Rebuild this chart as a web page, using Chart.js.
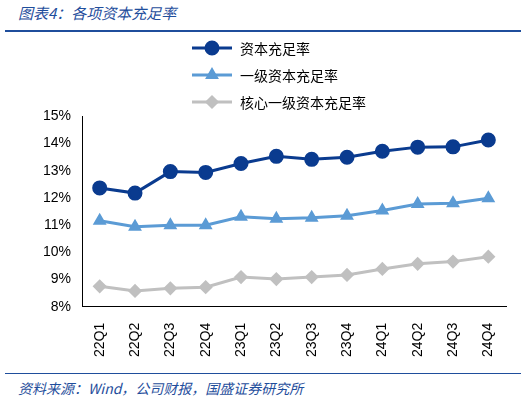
<!DOCTYPE html><html><head><meta charset="utf-8">
<script src="https://cdn.jsdelivr.net/npm/chart.js@4/dist/chart.umd.min.js"></script>
<style>body{margin:0;background:#fff;width:526px;height:403px;position:relative;overflow:hidden;font-family:"Noto Sans CJK SC",sans-serif}
#t{position:absolute;left:18px;top:2px;font-size:15px;font-style:italic;color:#1f4e9c}
#l{position:absolute;left:5px;top:30px;width:516px;height:2px;background:#1f4e9c}
#f{position:absolute;left:18px;top:378px;font-size:14px;font-style:italic;color:#1f4e9c}
#b{position:absolute;left:5px;top:373px;width:516px;height:1px;background:#1f4e9c}
#lg{position:absolute;left:190px;top:34px;font-size:14px}
.it{height:27px;display:flex;align-items:center}
.it canvas{margin-right:6px}
#c{position:absolute;left:40px;top:105px;width:475px;height:260px}</style></head><body>
<div id="t">图表4：各项资本充足率</div><div id="l"></div>
<div id="lg"></div>
<div id="c"><canvas id="cv"></canvas></div>
<div id="b"></div><div id="f">资料来源：Wind，公司财报，国盛证券研究所</div>
<script>
const categories=["22Q1","22Q2","22Q3","22Q4","23Q1","23Q2","23Q3","23Q4","24Q1","24Q2","24Q3","24Q4"];
const capitalRatio=[12.37,12.18,12.97,12.94,13.27,13.53,13.42,13.50,13.72,13.87,13.88,14.13];
const tier1Ratio=[11.16,10.94,11.00,11.00,11.31,11.24,11.27,11.35,11.54,11.78,11.81,11.99];
const coreTier1Ratio=[8.75,8.58,8.68,8.72,9.09,9.02,9.09,9.17,9.39,9.58,9.66,9.84];
const names=["资本充足率","一级资本充足率","核心一级资本充足率"];
const mk=(l,d,c,s)=>({label:l,data:d,borderColor:c,backgroundColor:c,pointStyle:s,pointRadius:s==='circle'?6:5,borderWidth:3});
const ds=[mk(names[0],capitalRatio,'#0a3b8f','circle'),mk(names[1],tier1Ratio,'#5b9bd5','triangle'),mk(names[2],coreTier1Ratio,'#c0c0c0','rectRot')];
const lg=document.getElementById('lg');
ds.forEach(d=>{const it=document.createElement('div');it.className='it';const c=document.createElement('canvas');c.width=44;c.height=16;const x=c.getContext('2d');
x.strokeStyle=d.borderColor;x.lineWidth=3;x.beginPath();x.moveTo(2,8);x.lineTo(42,8);x.stroke();
Chart.helpers.drawPoint(x,{pointStyle:d.pointStyle,radius:d.pointRadius,borderWidth:1,rotation:0},22,8);x.fillStyle=d.backgroundColor;
x.fill();it.appendChild(c);const s=document.createElement('span');s.textContent=d.label;it.appendChild(s);lg.appendChild(it);});
new Chart(document.getElementById('cv'),{type:'line',data:{labels:categories,datasets:ds},
options:{responsive:true,maintainAspectRatio:false,animation:false,
plugins:{legend:{display:false},tooltip:{enabled:false}},
scales:{y:{min:8,max:15,ticks:{stepSize:1,callback:v=>v+'%',font:{size:14},color:'#000'},grid:{display:false},border:{color:'#000'}},
x:{offset:true,ticks:{maxRotation:90,minRotation:90,padding:8,font:{size:14},color:'#000'},grid:{display:false,drawTicks:true},border:{color:'#000'}}}}});
</script></body></html>
